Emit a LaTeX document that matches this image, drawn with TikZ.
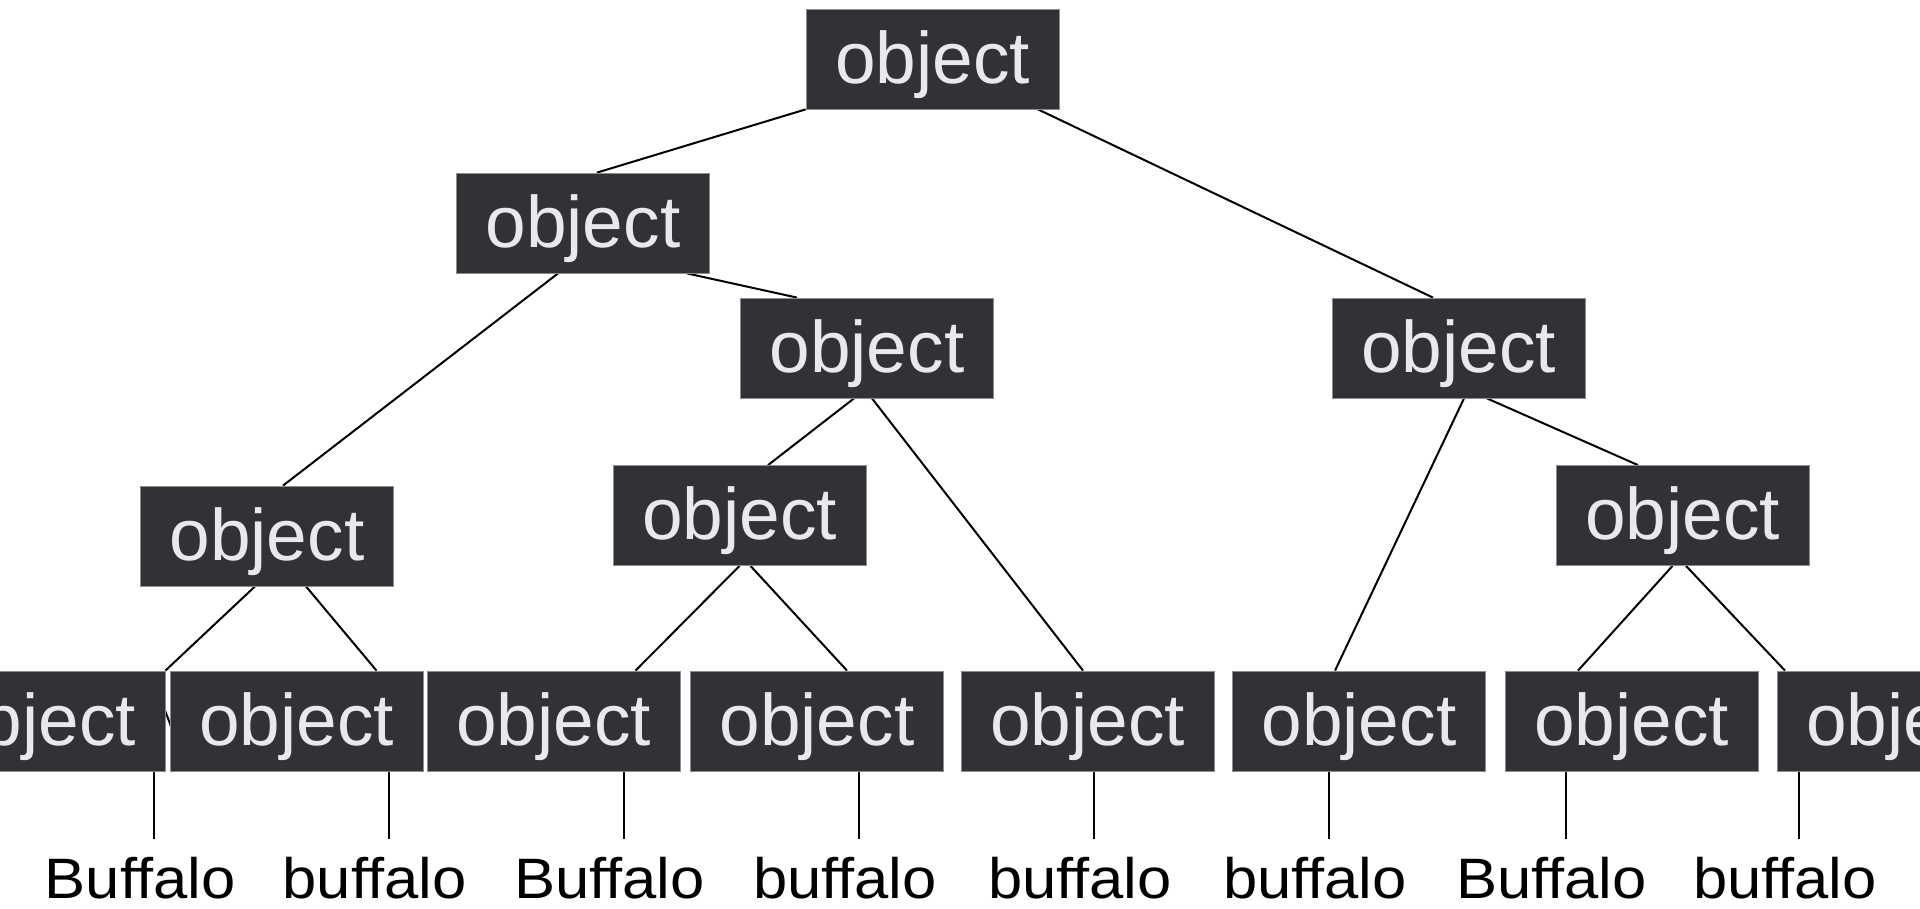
\documentclass[tikz,border=0pt]{standalone}
\usepackage{fontspec}
\setmainfont{Liberation Sans}
\newfontfamily\wordfont[FakeStretch=1.08]{Liberation Sans}
\usetikzlibrary{calc}
\pgfdeclarelayer{bg}
\pgfsetlayers{bg,main}
\definecolor{boxfill}{RGB}{49,50,54}
\definecolor{boxline}{RGB}{140,140,145}
\definecolor{boxtext}{RGB}{232,232,237}
\begin{document}
\begin{tikzpicture}[x=1pt,y=-1pt,
 obj/.style={fill=boxfill,draw=boxline,line width=0.8pt,text=boxtext,minimum width=253pt,inner sep=0pt,text height=74pt,text depth=26pt,font=\fontsize{73}{78}\selectfont},
 word/.style={anchor=base,inner sep=0pt,text height=59pt,text depth=0pt,font=\wordfont\fontsize{57}{62}\selectfont},
 edge/.style={line width=2pt,black}]
\useasboundingbox (0,0) rectangle (1920,908);
% inner nodes
\node[obj] (root) at (932.5,59) {object};
\node[obj] (l1L) at (583,223) {object};
\node[obj] (l2) at (867,348) {object};
\node[obj] (l1R) at (1458.5,348) {object};
\node[obj] (l3L) at (267,536) {object};
\node[obj] (l3M) at (739.5,515.5) {object};
\node[obj] (l3R) at (1682.5,515.5) {object};
% leaf boxes
\node[obj] (f1) at (38.5,721) {object};
\node[obj] (f2) at (296.5,721) {object};
\node[obj] (f3) at (553.5,721) {object};
\node[obj] (f4) at (817,721) {object};
\node[obj] (f5) at (1087.5,721) {object};
\node[obj] (f6) at (1359,721) {object};
\node[obj] (f7) at (1631.5,721) {object};
\node[obj] (f8) at (1903.5,721) {object};
% words
\node[word] (w1) at (140,898) {Buffalo};
\node[word] (w2) at (374.5,898) {buffalo};
\node[word] (w3) at (609.5,898) {Buffalo};
\node[word] (w4) at (845,898) {buffalo};
\node[word] (w5) at (1080,898) {buffalo};
\node[word] (w6) at (1315,898) {buffalo};
\node[word] (w7) at (1551.5,898) {Buffalo};
\node[word] (w8) at (1785,898) {buffalo};
\foreach \i in {1,...,8}{\coordinate (s\i) at ($(w\i.north)+(14,0)$);}
\begin{pgfonlayer}{bg}
\draw[edge] (root.south west) -- ($(l1L.north)+(14,0)$);
\draw[edge] ($(root.south)+(105.5,0)$) -- ($(l1R.north)+(-25.5,0)$);
\draw[edge] ($(l1L.south)+(104,0)$) -- ($(l2.north)+(-70,0)$);
\draw[edge] ($(l1L.south)+(-25,0)$) -- ($(l3L.north)+(16,0)$);
\draw[edge] ($(l2.south)+(-13,0)$) -- ($(l3M.north)+(28.5,0)$);
\draw[edge] ($(l2.south)+(5,0)$) -- ($(f5.north)+(-4.5,0)$);
\draw[edge] ($(l1R.south)+(5.5,0)$) -- ($(f6.north)+(-24,0)$);
\draw[edge] ($(l1R.south)+(28.5,0)$) -- ($(l3R.north)+(-44.5,0)$);
\draw[edge] ($(l3L.south)+(-12,0)$) -- (f1.north east);
\draw[edge] ($(f1.north east)+(-15,1)$) -- ($(f2.south west)+(15,-9)$);
\draw[edge] ($(l3L.south)+(39,0)$) -- ($(f2.north)+(80,0)$);
\draw[edge] (l3M.south) -- ($(f3.north)+(82,0)$);
\draw[edge] ($(l3M.south)+(11,0)$) -- ($(f4.north)+(30,0)$);
\draw[edge] ($(l3R.south)+(-10,0)$) -- ($(f7.north)+(-53.5,0)$);
\draw[edge] ($(l3R.south)+(3.5,0)$) -- ($(f8.north)+(-118.5,0)$);
\foreach \i in {1,...,8}{\draw[edge] (s\i |- f\i.south) -- (s\i);}
\end{pgfonlayer}
\end{tikzpicture}
\end{document}
